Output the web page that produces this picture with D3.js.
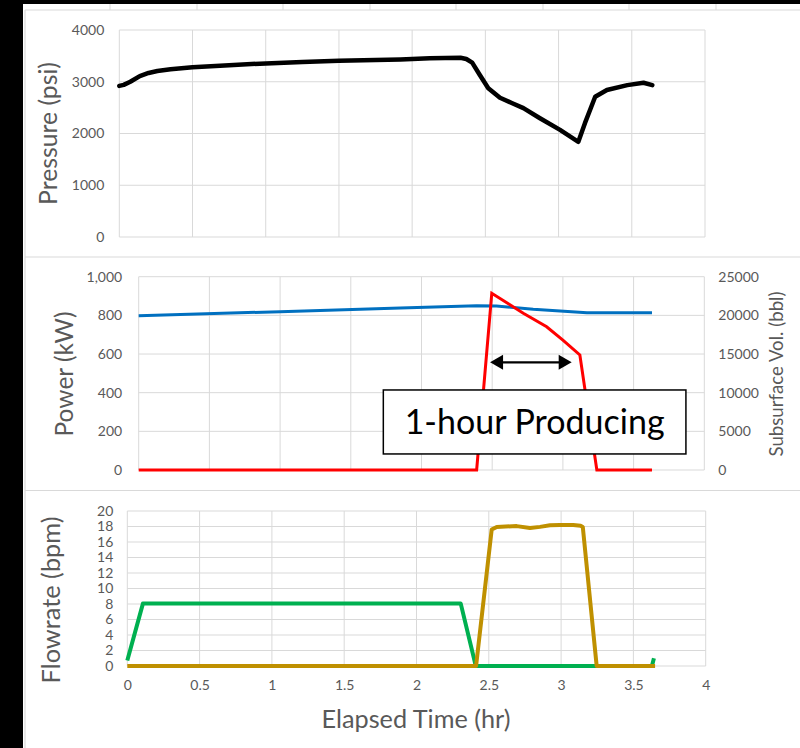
<!DOCTYPE html>
<html><head><meta charset="utf-8">
<script src="https://cdn.jsdelivr.net/npm/d3@7"></script>
<style>
html,body{margin:0;padding:0;background:#000;}
svg{display:block;}
text{font-family:Lato,"Open Sans",sans-serif;}
</style></head><body>
<svg id="c" width="800" height="748"></svg>
<script>
// ---------- data ----------
const pressureTime  = [0, 0.03, 0.075, 0.14, 0.2, 0.26, 0.35, 0.5, 0.75, 1.0, 1.25, 1.5, 1.75, 1.92, 2.12, 2.33, 2.37, 2.41, 2.46, 2.52, 2.6, 2.68, 2.76, 2.87, 3.01, 3.135, 3.18, 3.25, 3.33, 3.47, 3.58, 3.64];
const pressureValue = [2920, 2940, 3000, 3110, 3170, 3207, 3240, 3278, 3320, 3355, 3380, 3406, 3420, 3432, 3455, 3465, 3440, 3370, 3140, 2875, 2690, 2590, 2490, 2300, 2070, 1840, 2200, 2710, 2840, 2935, 2980, 2935];

const volTime  = [0, 1.0, 1.85, 2.39, 2.53, 2.79, 2.98, 3.17, 3.63];
const volValue = [19950, 20480, 20950, 21250, 21210, 20780, 20560, 20340, 20340];

const powerTime  = [0, 2.39, 2.497, 2.72, 2.885, 3.0, 3.12, 3.24, 3.63];
const powerValue = [0, 0, 914, 811, 741, 672, 595, 0, 0];

const injTime = [0, 0.108, 2.306, 2.41, 3.24, 3.628, 3.642];
const injRate = [0.7, 8.05, 8.05, 0, 0, 0, 1.0];

const prodTime = [0, 2.412, 2.52, 2.555, 2.693, 2.785, 2.854, 2.923, 2.992, 3.084, 3.135, 3.15, 3.246, 3.65];
const prodRate = [0, 0, 17.6, 17.95, 18.05, 17.8, 17.95, 18.15, 18.2, 18.2, 18.1, 17.95, 0, 0];

const timeTicks     = [0, 0.5, 1, 1.5, 2, 2.5, 3, 3.5, 4];
const pressureTicks = [0, 1000, 2000, 3000, 4000];
const powerTicks    = [0, 200, 400, 600, 800, 1000];
const volTicks      = [0, 5000, 10000, 15000, 20000, 25000];
const flowTicks     = [0, 2, 4, 6, 8, 10, 12, 14, 16, 18, 20];

const annotationText = "1-hour Producing";
const arrowTimes = [2.485, 3.062];
const arrowPower = 557;
const boxTimes = [1.73, 3.87];
const boxPower = [83, 414];

// ---------- styles ----------
const GRID = "#d9d9d9", LABEL = "#595959";

const svg = d3.select("#c");
svg.append("rect").attr("x",0).attr("y",0).attr("width",800).attr("height",748).attr("fill","#000");
svg.append("rect").attr("x",23).attr("y",4).attr("width",777).attr("height",744).attr("fill","#fff");
// spreadsheet/frame lines
[110,197,283,370,456,543,629,716].forEach(x=>{
  svg.append("line").attr("x1",x).attr("x2",x).attr("y1",4).attr("y2",10).attr("stroke",GRID);
});
[10,257,490.5].forEach(y=>{
  svg.append("line").attr("x1",25).attr("x2",800).attr("y1",y).attr("y2",y).attr("stroke",GRID).attr("stroke-width",1.2);
});
svg.append("line").attr("x1",25).attr("x2",25).attr("y1",10).attr("y2",748).attr("stroke",GRID).attr("stroke-width",1.2);

function grid(g, x, y, xt, yt){
  const [x0,x1] = x.range(), [y0,y1] = y.range();
  g.selectAll(".gx").data(xt).join("line").attr("class","gx")
    .attr("x1",d=>x(d)).attr("x2",d=>x(d)).attr("y1",y0).attr("y2",y1)
    .attr("stroke",GRID).attr("stroke-width",1);
  g.selectAll(".gy").data(yt).join("line").attr("class","gy")
    .attr("x1",x0).attr("x2",x1).attr("y1",d=>y(d)).attr("y2",d=>y(d))
    .attr("stroke",GRID).attr("stroke-width",1);
}
function styleAxis(g){
  g.select(".domain").remove();
  g.selectAll("line").remove();
  g.selectAll("text").attr("fill",LABEL).style("font-size","14px").style("font-family","Lato");
}
function fitText(sel, target, base){
  sel.style("font-size", base+"px");
  const L = sel.node().getComputedTextLength();
  sel.style("font-size", (base*target/L)+"px");
}
function rotTitle(txt, bx, cy, len, base){
  const t = svg.append("text").attr("transform",`translate(${bx},${cy}) rotate(-90)`)
    .attr("text-anchor","middle").attr("fill",LABEL).text(txt);
  fitText(t, len, base);
  return t;
}
const zip = (a,b)=>a.map((d,i)=>[d,b[i]]);

// ---------- panel 1: pressure ----------
const x1 = d3.scaleLinear().domain([0,4]).range([119.3,705]);
const y1 = d3.scaleLinear().domain([0,4000]).range([237,30]);
const g1 = svg.append("g");
grid(g1, x1, y1, timeTicks, pressureTicks);
svg.append("g").attr("transform",`translate(${x1.range()[0]},0)`)
  .call(d3.axisLeft(y1).tickValues(pressureTicks).tickSize(0).tickPadding(15).tickFormat(d3.format("d")))
  .call(styleAxis);
svg.append("path").datum(zip(pressureTime, pressureValue))
  .attr("d", d3.line().x(d=>x1(d[0])).y(d=>y1(d[1])))
  .attr("fill","none").attr("stroke","#000").attr("stroke-width",4.5)
  .attr("stroke-linejoin","round").attr("stroke-linecap","round");
rotTitle("Pressure (psi)", 57, 133.5, 143, 22);

// ---------- panel 2: power & subsurface vol ----------
const x2 = d3.scaleLinear().domain([0,4]).range([138.7,704.3]);
const y2 = d3.scaleLinear().domain([0,1000]).range([470,276.7]);
const y2r = d3.scaleLinear().domain([0,25000]).range([470,276.7]);
const g2 = svg.append("g");
grid(g2, x2, y2, timeTicks, powerTicks);
svg.append("g").attr("transform",`translate(${x2.range()[0]},0)`)
  .call(d3.axisLeft(y2).tickValues(powerTicks).tickSize(0).tickPadding(16.5).tickFormat(d3.format(",")))
  .call(styleAxis);
svg.append("g").attr("transform",`translate(${x2.range()[1]},0)`)
  .call(d3.axisRight(y2r).tickValues(volTicks).tickSize(0).tickPadding(14).tickFormat(d3.format("d")))
  .call(styleAxis);
svg.append("path").datum(zip(volTime, volValue))
  .attr("d", d3.line().x(d=>x2(d[0])).y(d=>y2r(d[1])))
  .attr("fill","none").attr("stroke","#0070c0").attr("stroke-width",3)
  .attr("stroke-linejoin","round");
svg.append("path").datum(zip(powerTime, powerValue))
  .attr("d", d3.line().x(d=>x2(d[0])).y(d=>y2(d[1])))
  .attr("fill","none").attr("stroke","#ff0000").attr("stroke-width",3)
  .attr("stroke-linejoin","miter");
// arrow
{
  const ax0 = x2(arrowTimes[0]), ax1 = x2(arrowTimes[1]), ay = y2(arrowPower);
  const hl = 13, hw = 7.5;
  svg.append("line").attr("x1",ax0+hl-2).attr("x2",ax1-hl+2).attr("y1",ay).attr("y2",ay)
    .attr("stroke","#000").attr("stroke-width",2.2);
  svg.append("path").attr("d",`M${ax0},${ay}L${ax0+hl},${ay-hw}L${ax0+hl},${ay+hw}Z`).attr("fill","#000");
  svg.append("path").attr("d",`M${ax1},${ay}L${ax1-hl},${ay-hw}L${ax1-hl},${ay+hw}Z`).attr("fill","#000");
}
// annotation box
{
  const bx0 = x2(boxTimes[0]), bx1 = x2(boxTimes[1]);
  const by0 = y2(boxPower[1]), by1 = y2(boxPower[0]);
  svg.append("rect").attr("x",bx0).attr("y",by0).attr("width",bx1-bx0).attr("height",by1-by0)
    .attr("fill","#fff").attr("stroke","#000").attr("stroke-width",1.5);
  const t = svg.append("text").attr("x",(bx0+bx1)/2).attr("y",by0+44.3)
    .attr("text-anchor","middle").attr("fill","#000").text(annotationText);
  fitText(t, 260, 32);
}
rotTitle("Power (kW)", 73, 374, 125, 22);
rotTitle("Subsurface Vol. (bbl)", 783, 374, 165, 15);

// ---------- panel 3: flowrate ----------
const x3 = d3.scaleLinear().domain([0,4]).range([127.3,705.7]);
const y3 = d3.scaleLinear().domain([0,20]).range([666,511]);
const g3 = svg.append("g");
grid(g3, x3, y3, timeTicks, flowTicks);
svg.append("g").attr("transform",`translate(${x3.range()[0]},0)`)
  .call(d3.axisLeft(y3).tickValues(flowTicks).tickSize(0).tickPadding(14).tickFormat(d3.format("d")))
  .call(styleAxis);
svg.append("g").attr("transform",`translate(0,${y3.range()[0]})`)
  .call(d3.axisBottom(x3).tickValues(timeTicks).tickSize(0).tickPadding(14).tickFormat(d=>String(d)))
  .call(styleAxis);
svg.append("path").datum(zip(injTime, injRate))
  .attr("d", d3.line().x(d=>x3(d[0])).y(d=>y3(d[1])))
  .attr("fill","none").attr("stroke","#00b050").attr("stroke-width",4)
  .attr("stroke-linejoin","round");
svg.append("path").datum(zip(prodTime, prodRate))
  .attr("d", d3.line().x(d=>x3(d[0])).y(d=>y3(d[1])))
  .attr("fill","none").attr("stroke","#bf9000").attr("stroke-width",4)
  .attr("stroke-linejoin","round");
rotTitle("Flowrate (bpm)", 60, 600, 167, 22);
{
  const t = svg.append("text").attr("x",416).attr("y",727.7).attr("text-anchor","middle")
    .attr("fill",LABEL).text("Elapsed Time (hr)");
  fitText(t, 189, 22);
}
</script>
</body></html>
